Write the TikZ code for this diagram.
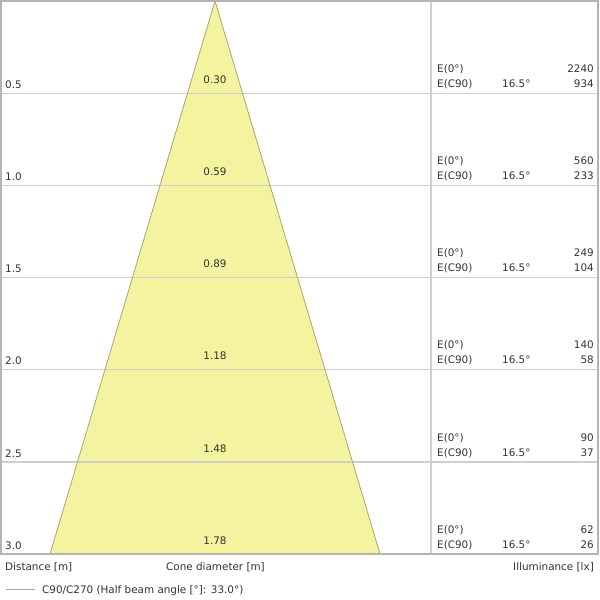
\documentclass[tikz,border=0pt]{standalone}
\usepackage{fontspec}
\setmainfont{DejaVu Sans}
\usetikzlibrary{positioning}
\definecolor{gridgray}{HTML}{CFCFCF}
\definecolor{framegray}{HTML}{B4B4B4}
\definecolor{conefill}{HTML}{F4F4A0}
\definecolor{coneline}{HTML}{A8A868}
\tikzset{
  lbl/.style={inner sep=0pt, font=\fontsize{10.4}{12}\selectfont, text=black!80},
  lblleft/.style={lbl, anchor=base west},
  lblright/.style={lbl, anchor=base east},
  lblmid/.style={lbl, anchor=base}
}
\begin{document}
\begin{tikzpicture}[x=1pt,y=-1pt]
	\useasboundingbox (0,0) rectangle (600,600);
	% cone
	\fill[conefill] (215,1) -- (50,554) -- (380,554) -- cycle;
	% grid lines
	\foreach \i in {1,...,5}
		\draw[gridgray, line width=1.2pt] (1,{1+92.2*\i}) -- (598,{1+92.2*\i});
	\draw[coneline, line width=0.8pt] (50,554) -- (215,1) -- (380,554);
	\draw[gridgray, line width=1.2pt] (431,1) -- (431,554);
	\draw[framegray, line width=1.2pt] (1,1) rectangle (598,554);
	% row labels
	\foreach \i/\d/\c/\ea/\eb in {1/0.5/0.30/2240/934, 2/1.0/0.59/560/233, 3/1.5/0.89/249/104,
		4/2.0/1.18/140/58, 5/2.5/1.48/90/37, 6/3.0/1.78/62/26} {
		\node[lblleft] (dist\i) at (5,{1+92.2*\i-5}) {\d};
		\node[lblmid] (diam\i) at (215,{1+92.2*\i-10}) {\c};
		\node[lblleft] (ezero\i) at (437,{1+92.2*\i-21}) {E(0°)};
		\node[lblleft] (ecnine\i) at (437,{1+92.2*\i-6}) {E(C90)};
		\node[lblleft] (angle\i) at (502,{1+92.2*\i-6}) {16.5°};
		\node[lblright] (valzero\i) at (594,{1+92.2*\i-21}) {\ea};
		\node[lblright] (valnine\i) at (594,{1+92.2*\i-6}) {\eb};
	}
	% axis captions
	\node[lblleft] (distcap) at (5,570) {Distance [m]};
	\node[lblleft] (diamcap) at (166,570) {Cone diameter [m]};
	\node[lblright] (illcap) at (594,570) {Illuminance [lx]};
	% legend
	\draw[gridgray!80!black, line width=0.8pt] (6,589) -- (35,589);
	\node[lblleft] (legend) at (42,593) {C90/C270 (Half beam angle [°]: 33.0°)};
\end{tikzpicture}
\end{document}
